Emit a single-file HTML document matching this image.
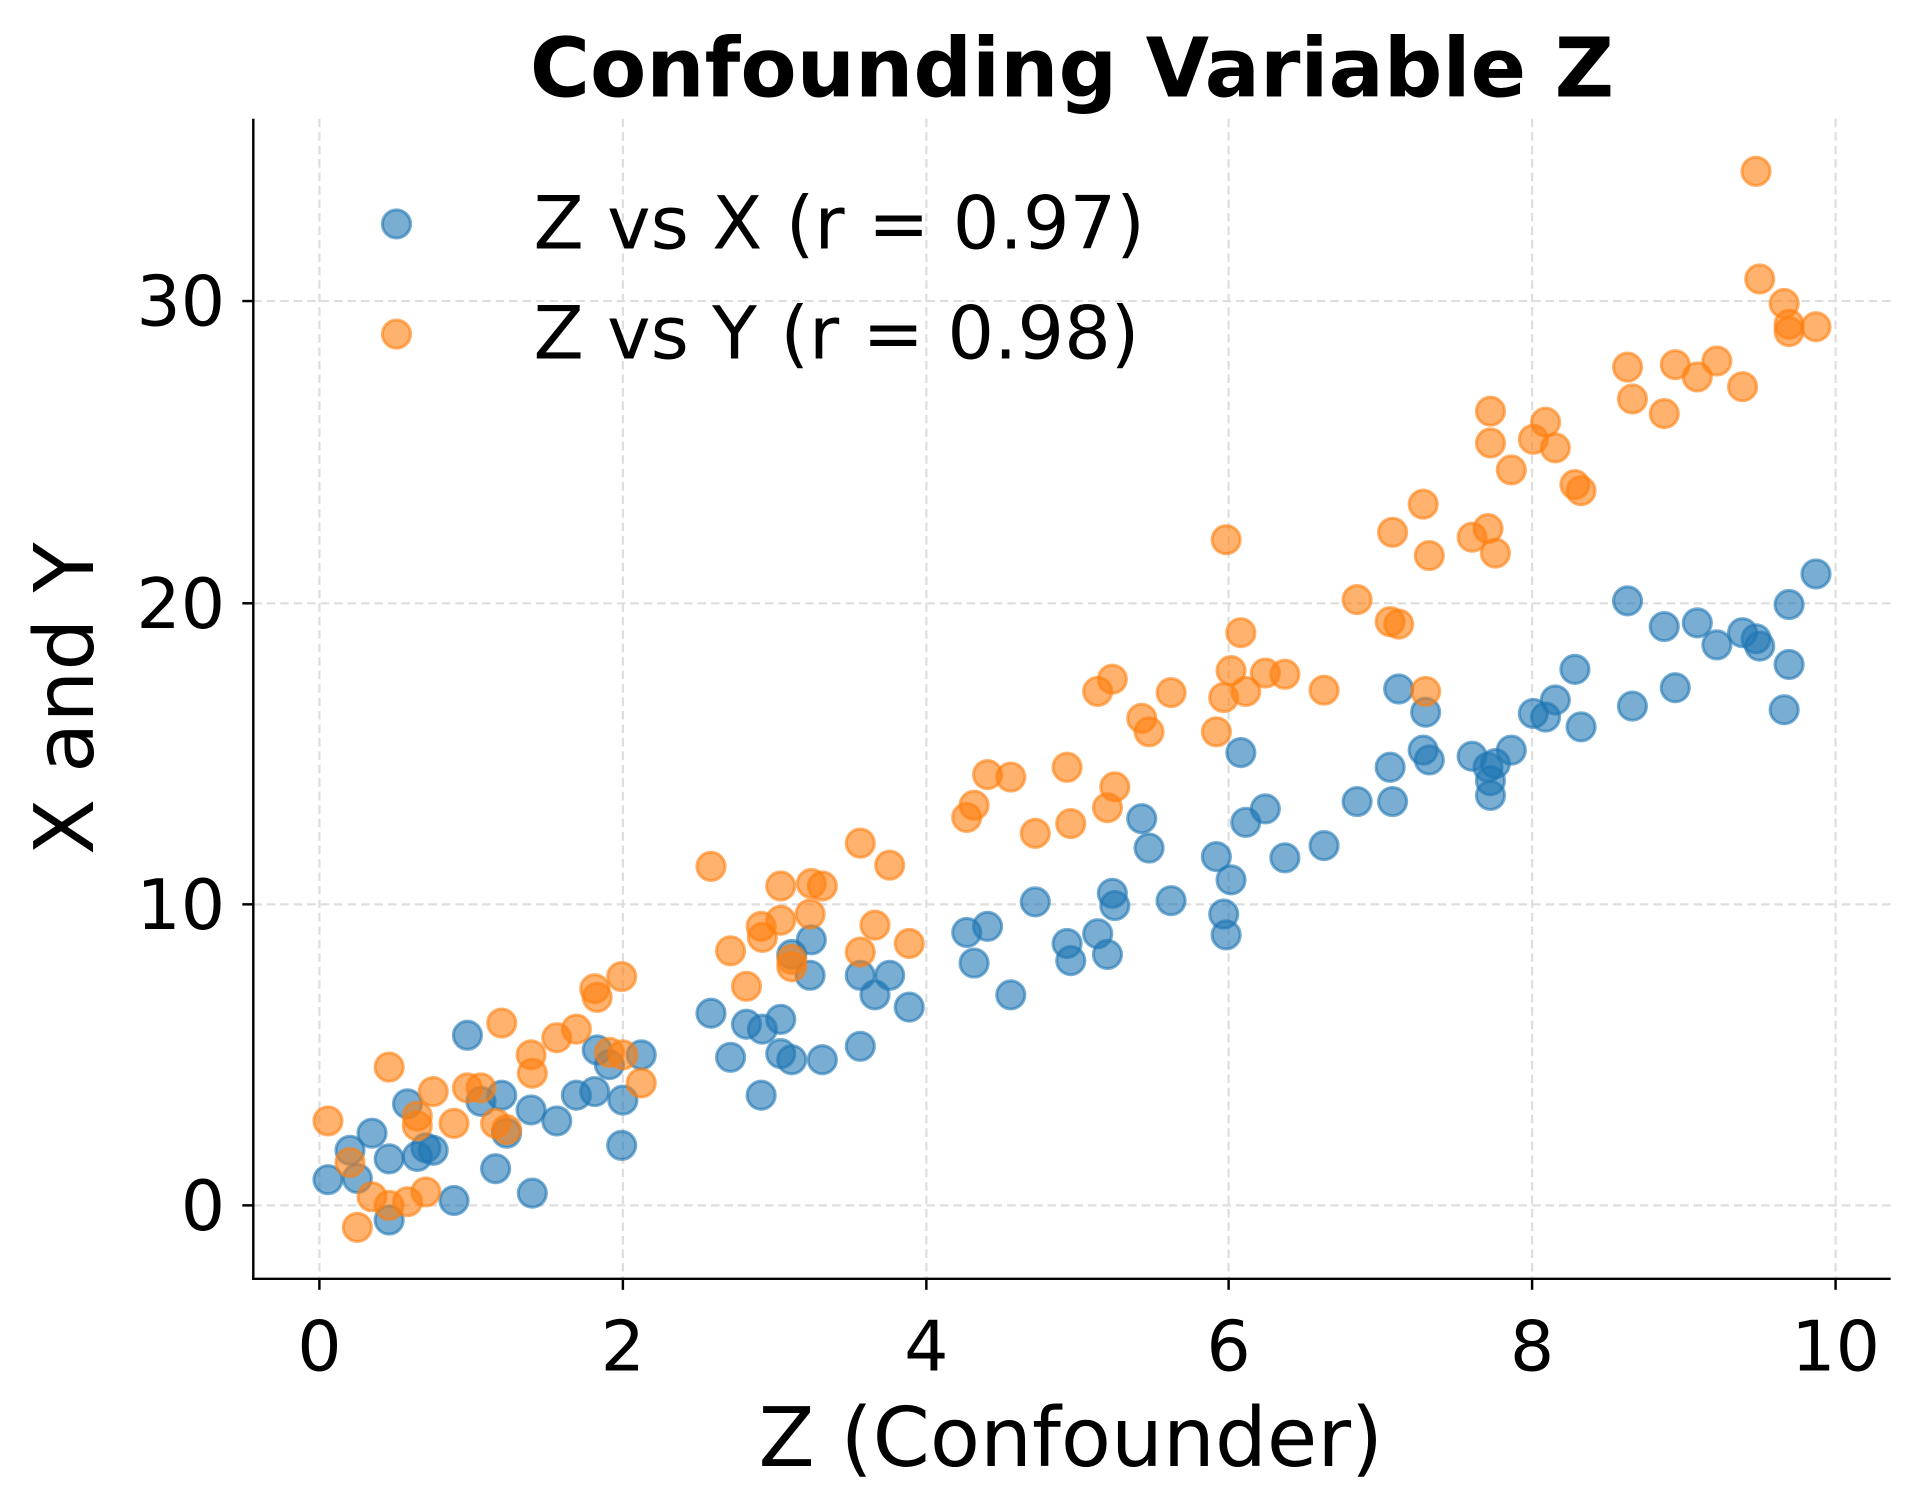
<!DOCTYPE html>
<html><head><meta charset="utf-8"><style>html,body{margin:0;padding:0;background:#fff}svg{display:block}</style></head>
<body>
<svg width="1909" height="1503" viewBox="0 0 1560 1228.2" xmlns="http://www.w3.org/2000/svg" font-family="'DejaVu Sans','Liberation Sans',sans-serif">
<rect width="1560" height="1228.2" fill="#fff"/>
<g stroke="#dedede" stroke-width="1.8" stroke-dasharray="7,4">
<line x1="261" y1="97" x2="261" y2="1045"/><line x1="509" y1="97" x2="509" y2="1045"/><line x1="757" y1="97" x2="757" y2="1045"/><line x1="1004" y1="97" x2="1004" y2="1045"/><line x1="1252" y1="97" x2="1252" y2="1045"/><line x1="1500" y1="97" x2="1500" y2="1045"/>
<line x1="207" y1="985" x2="1545" y2="985"/><line x1="207" y1="739" x2="1545" y2="739"/><line x1="207" y1="493" x2="1545" y2="493"/><line x1="207" y1="246" x2="1545" y2="246"/>
</g>
<g fill="#1f77b4" fill-opacity="0.6" stroke="#1f77b4" stroke-opacity="0.6" stroke-width="2.5">
<circle cx="268" cy="964" r="11.5"/><circle cx="286" cy="940" r="11.5"/><circle cx="292" cy="963" r="11.5"/><circle cx="304" cy="926" r="11.5"/><circle cx="318" cy="947" r="11.5"/><circle cx="318" cy="997" r="11.5"/><circle cx="333" cy="902" r="11.5"/><circle cx="341" cy="945" r="11.5"/><circle cx="348" cy="938" r="11.5"/><circle cx="354" cy="940" r="11.5"/><circle cx="371" cy="981" r="11.5"/><circle cx="382" cy="846" r="11.5"/><circle cx="393" cy="900" r="11.5"/><circle cx="405" cy="955" r="11.5"/><circle cx="410" cy="895" r="11.5"/><circle cx="414" cy="926" r="11.5"/><circle cx="435" cy="975" r="11.5"/><circle cx="434" cy="907" r="11.5"/><circle cx="455" cy="916" r="11.5"/><circle cx="471" cy="895" r="11.5"/><circle cx="488" cy="858" r="11.5"/><circle cx="486" cy="892" r="11.5"/><circle cx="498" cy="870" r="11.5"/><circle cx="508" cy="936" r="11.5"/><circle cx="509" cy="899" r="11.5"/><circle cx="524" cy="862" r="11.5"/><circle cx="581" cy="828" r="11.5"/><circle cx="597" cy="864" r="11.5"/><circle cx="610" cy="837" r="11.5"/><circle cx="622" cy="895" r="11.5"/><circle cx="623" cy="841" r="11.5"/><circle cx="638" cy="833" r="11.5"/><circle cx="638" cy="861" r="11.5"/><circle cx="647" cy="866" r="11.5"/><circle cx="647" cy="780" r="11.5"/><circle cx="662" cy="797" r="11.5"/><circle cx="663" cy="768" r="11.5"/><circle cx="672" cy="866" r="11.5"/><circle cx="703" cy="855" r="11.5"/><circle cx="703" cy="797" r="11.5"/><circle cx="715" cy="813" r="11.5"/><circle cx="727" cy="797" r="11.5"/><circle cx="743" cy="823" r="11.5"/><circle cx="790" cy="762" r="11.5"/><circle cx="796" cy="787" r="11.5"/><circle cx="807" cy="757" r="11.5"/><circle cx="826" cy="813" r="11.5"/><circle cx="846" cy="737" r="11.5"/><circle cx="872" cy="771" r="11.5"/><circle cx="875" cy="785" r="11.5"/><circle cx="897" cy="763" r="11.5"/><circle cx="905" cy="780" r="11.5"/><circle cx="909" cy="730" r="11.5"/><circle cx="911" cy="740" r="11.5"/><circle cx="933" cy="669" r="11.5"/><circle cx="939" cy="693" r="11.5"/><circle cx="957" cy="736" r="11.5"/><circle cx="994" cy="700" r="11.5"/><circle cx="1000" cy="747" r="11.5"/><circle cx="1002" cy="764" r="11.5"/><circle cx="1006" cy="719" r="11.5"/><circle cx="1014" cy="615" r="11.5"/><circle cx="1018" cy="672" r="11.5"/><circle cx="1034" cy="661" r="11.5"/><circle cx="1050" cy="701" r="11.5"/><circle cx="1082" cy="691" r="11.5"/><circle cx="1109" cy="655" r="11.5"/><circle cx="1136" cy="627" r="11.5"/><circle cx="1138" cy="655" r="11.5"/><circle cx="1143" cy="563" r="11.5"/><circle cx="1163" cy="613" r="11.5"/><circle cx="1165" cy="582" r="11.5"/><circle cx="1168" cy="621" r="11.5"/><circle cx="1203" cy="618" r="11.5"/><circle cx="1216" cy="627" r="11.5"/><circle cx="1218" cy="638" r="11.5"/><circle cx="1218" cy="650" r="11.5"/><circle cx="1222" cy="624" r="11.5"/><circle cx="1235" cy="613" r="11.5"/><circle cx="1253" cy="583" r="11.5"/><circle cx="1263" cy="586" r="11.5"/><circle cx="1271" cy="572" r="11.5"/><circle cx="1287" cy="547" r="11.5"/><circle cx="1292" cy="594" r="11.5"/><circle cx="1330" cy="491" r="11.5"/><circle cx="1334" cy="577" r="11.5"/><circle cx="1360" cy="512" r="11.5"/><circle cx="1369" cy="562" r="11.5"/><circle cx="1387" cy="509" r="11.5"/><circle cx="1403" cy="527" r="11.5"/><circle cx="1424" cy="517" r="11.5"/><circle cx="1435" cy="522" r="11.5"/><circle cx="1438" cy="528" r="11.5"/><circle cx="1458" cy="580" r="11.5"/><circle cx="1462" cy="494" r="11.5"/><circle cx="1462" cy="543" r="11.5"/><circle cx="1484" cy="469" r="11.5"/>
<circle cx="324" cy="183" r="11.5"/>
</g>
<g fill="#ff7f0e" fill-opacity="0.6" stroke="#ff7f0e" stroke-opacity="0.6" stroke-width="2.5">
<circle cx="268" cy="916" r="11.5"/><circle cx="286" cy="950" r="11.5"/><circle cx="292" cy="1003" r="11.5"/><circle cx="304" cy="978" r="11.5"/><circle cx="318" cy="872" r="11.5"/><circle cx="318" cy="985" r="11.5"/><circle cx="333" cy="982" r="11.5"/><circle cx="341" cy="912" r="11.5"/><circle cx="341" cy="920" r="11.5"/><circle cx="348" cy="974" r="11.5"/><circle cx="354" cy="892" r="11.5"/><circle cx="371" cy="918" r="11.5"/><circle cx="382" cy="889" r="11.5"/><circle cx="393" cy="889" r="11.5"/><circle cx="405" cy="918" r="11.5"/><circle cx="410" cy="836" r="11.5"/><circle cx="414" cy="923" r="11.5"/><circle cx="435" cy="877" r="11.5"/><circle cx="434" cy="862" r="11.5"/><circle cx="455" cy="848" r="11.5"/><circle cx="471" cy="841" r="11.5"/><circle cx="488" cy="815" r="11.5"/><circle cx="486" cy="808" r="11.5"/><circle cx="498" cy="860" r="11.5"/><circle cx="508" cy="798" r="11.5"/><circle cx="509" cy="862" r="11.5"/><circle cx="524" cy="885" r="11.5"/><circle cx="581" cy="708" r="11.5"/><circle cx="597" cy="777" r="11.5"/><circle cx="610" cy="806" r="11.5"/><circle cx="622" cy="757" r="11.5"/><circle cx="623" cy="766" r="11.5"/><circle cx="638" cy="724" r="11.5"/><circle cx="638" cy="752" r="11.5"/><circle cx="647" cy="784" r="11.5"/><circle cx="647" cy="790" r="11.5"/><circle cx="662" cy="747" r="11.5"/><circle cx="663" cy="722" r="11.5"/><circle cx="672" cy="724" r="11.5"/><circle cx="703" cy="689" r="11.5"/><circle cx="703" cy="778" r="11.5"/><circle cx="715" cy="756" r="11.5"/><circle cx="727" cy="707" r="11.5"/><circle cx="743" cy="771" r="11.5"/><circle cx="790" cy="668" r="11.5"/><circle cx="796" cy="658" r="11.5"/><circle cx="807" cy="633" r="11.5"/><circle cx="826" cy="635" r="11.5"/><circle cx="846" cy="681" r="11.5"/><circle cx="872" cy="627" r="11.5"/><circle cx="875" cy="673" r="11.5"/><circle cx="897" cy="565" r="11.5"/><circle cx="905" cy="660" r="11.5"/><circle cx="909" cy="555" r="11.5"/><circle cx="911" cy="643" r="11.5"/><circle cx="933" cy="587" r="11.5"/><circle cx="939" cy="598" r="11.5"/><circle cx="957" cy="566" r="11.5"/><circle cx="994" cy="598" r="11.5"/><circle cx="1000" cy="570" r="11.5"/><circle cx="1002" cy="441" r="11.5"/><circle cx="1006" cy="548" r="11.5"/><circle cx="1014" cy="517" r="11.5"/><circle cx="1018" cy="565" r="11.5"/><circle cx="1034" cy="550" r="11.5"/><circle cx="1050" cy="551" r="11.5"/><circle cx="1082" cy="564" r="11.5"/><circle cx="1109" cy="490" r="11.5"/><circle cx="1136" cy="508" r="11.5"/><circle cx="1138" cy="435" r="11.5"/><circle cx="1143" cy="510" r="11.5"/><circle cx="1163" cy="412" r="11.5"/><circle cx="1165" cy="565" r="11.5"/><circle cx="1168" cy="454" r="11.5"/><circle cx="1203" cy="439" r="11.5"/><circle cx="1216" cy="432" r="11.5"/><circle cx="1218" cy="336" r="11.5"/><circle cx="1218" cy="362" r="11.5"/><circle cx="1222" cy="452" r="11.5"/><circle cx="1235" cy="384" r="11.5"/><circle cx="1253" cy="359" r="11.5"/><circle cx="1263" cy="345" r="11.5"/><circle cx="1271" cy="366" r="11.5"/><circle cx="1287" cy="396" r="11.5"/><circle cx="1292" cy="401" r="11.5"/><circle cx="1330" cy="300" r="11.5"/><circle cx="1334" cy="326" r="11.5"/><circle cx="1360" cy="338" r="11.5"/><circle cx="1369" cy="298" r="11.5"/><circle cx="1387" cy="308" r="11.5"/><circle cx="1403" cy="295" r="11.5"/><circle cx="1424" cy="316" r="11.5"/><circle cx="1435" cy="140" r="11.5"/><circle cx="1438" cy="228" r="11.5"/><circle cx="1458" cy="248" r="11.5"/><circle cx="1462" cy="271" r="11.5"/><circle cx="1462" cy="265" r="11.5"/><circle cx="1484" cy="267" r="11.5"/>
<circle cx="324" cy="273" r="11.5"/>
</g>
<g stroke="#000" stroke-width="2">
<line x1="207" y1="97" x2="207" y2="1046"/><line x1="206" y1="1045" x2="1545" y2="1045"/>
<line x1="198" y1="985" x2="207" y2="985"/><line x1="198" y1="739" x2="207" y2="739"/><line x1="198" y1="493" x2="207" y2="493"/><line x1="198" y1="246" x2="207" y2="246"/>
<line x1="261" y1="1045" x2="261" y2="1054"/><line x1="509" y1="1045" x2="509" y2="1054"/><line x1="757" y1="1045" x2="757" y2="1054"/><line x1="1004" y1="1045" x2="1004" y2="1054"/><line x1="1252" y1="1045" x2="1252" y2="1054"/><line x1="1500" y1="1045" x2="1500" y2="1054"/>
</g>
<g font-size="57" fill="#000">
<g text-anchor="end"><text x="184" y="1005">0</text><text x="184" y="759">10</text><text x="184" y="513">20</text><text x="184" y="266">30</text></g>
<g text-anchor="middle"><text x="261" y="1120">0</text><text x="509" y="1120">2</text><text x="757" y="1120">4</text><text x="1004" y="1120">6</text><text x="1252" y="1120">8</text><text x="1500" y="1120">10</text></g>
</g>
<g font-size="60" fill="#000"><text x="436" y="203">Z vs X (r = 0.97)</text><text x="436" y="293">Z vs Y (r = 0.98)</text></g>
<text x="875" y="1198" font-size="67" text-anchor="middle">Z (Confounder)</text>
<text transform="translate(76,571) rotate(-90)" font-size="67" text-anchor="middle">X and Y</text>
<text x="876" y="79" font-size="67" font-weight="bold" text-anchor="middle">Confounding Variable Z</text>
</svg>
</body></html>
